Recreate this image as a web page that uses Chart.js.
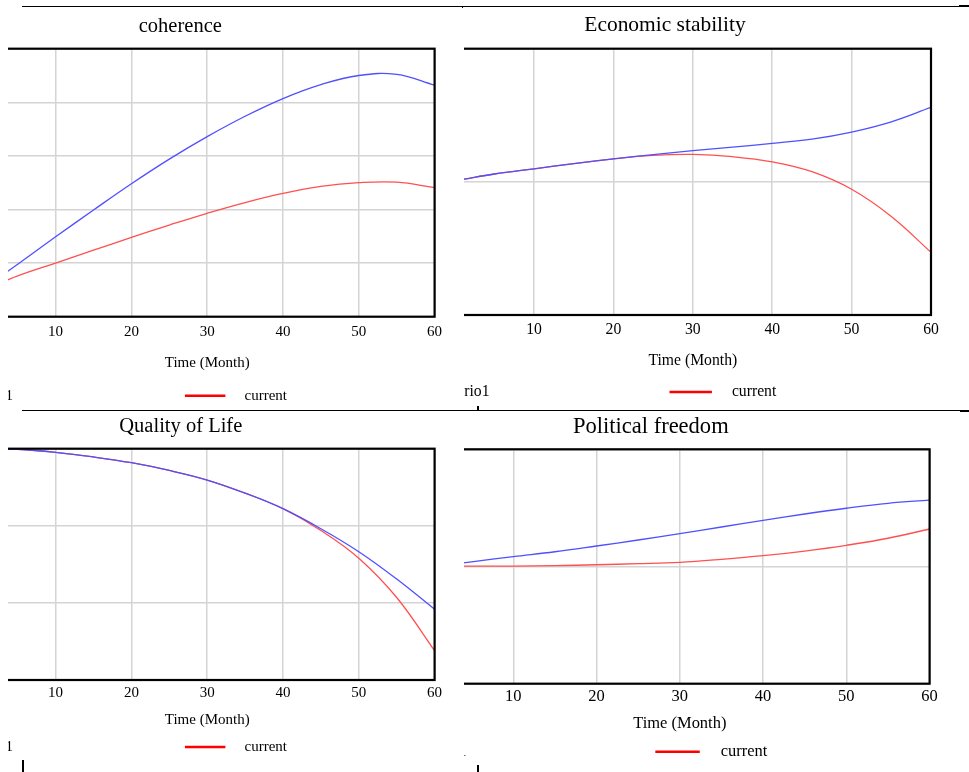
<!DOCTYPE html>
<html>
<head>
<meta charset="utf-8">
<script src="https://cdn.jsdelivr.net/npm/chart.js@4.4.0/dist/chart.umd.min.js"></script>
<style>
  body { margin: 0; background: #fff; width: 969px; height: 772px; position: relative; overflow: hidden; }
  .clip { position: absolute; overflow: hidden; }
  .clip canvas { position: absolute; }
  .rule { position: absolute; background: #000; }
</style>
</head>
<body>
<div class="rule" style="left:22px;top:6px;width:938px;height:1px"></div>
<div class="rule" style="left:959px;top:5px;width:10px;height:2px"></div>
<div class="rule" style="left:462px;top:7px;width:1px;height:1px"></div>
<div class="rule" style="left:22px;top:410px;width:938px;height:1px"></div>
<div class="rule" style="left:960px;top:410px;width:9px;height:2px"></div>
<div class="rule" style="left:477px;top:406px;width:2px;height:4px"></div>
<div class="rule" style="left:22px;top:760px;width:2px;height:12px"></div>
<div class="rule" style="left:477px;top:765px;width:2px;height:7px"></div>

<div class="clip" id="clip1" style="left:8px;top:7px;width:452px;height:402px"><canvas id="coherence"></canvas></div>
<div class="clip" id="clip2" style="left:464px;top:7px;width:505px;height:402px"><canvas id="economic"></canvas></div>
<div class="clip" id="clip3" style="left:8px;top:412px;width:452px;height:360px"><canvas id="quality"></canvas></div>
<div class="clip" id="clip4" style="left:464px;top:412px;width:505px;height:360px"><canvas id="political"></canvas></div>

<script>
// time axis (months) shared by every series
const months = [1, 5, 10, 15, 20, 25, 30, 35, 40, 45, 50, 55, 60];

// coherence
const coherenceScenario = [0.58, 0.98, 1.49, 1.99, 2.48, 2.94, 3.36, 3.74, 4.07, 4.33, 4.50, 4.52, 4.32];
const coherenceCurrent  = [0.52, 0.76, 1.00, 1.24, 1.48, 1.71, 1.93, 2.13, 2.30, 2.43, 2.50, 2.51, 2.41];

// Economic stability
const economicScenario = [1.018, 1.059, 1.098, 1.137, 1.173, 1.205, 1.234, 1.261, 1.289, 1.321, 1.374, 1.451, 1.559];
const economicCurrent  = [1.018, 1.059, 1.098, 1.137, 1.173, 1.199, 1.206, 1.189, 1.150, 1.076, 0.944, 0.740, 0.471];

// Quality of Life
const qualityScenario = [3.0, 2.993, 2.953, 2.893, 2.818, 2.718, 2.594, 2.424, 2.222, 1.962, 1.664, 1.309, 0.917];
const qualityCurrent  = [3.0, 2.993, 2.953, 2.893, 2.818, 2.718, 2.594, 2.424, 2.222, 1.940, 1.580, 1.070, 0.380];

// Political freedom
const politicalScenario = [1.005, 1.040, 1.084, 1.126, 1.175, 1.226, 1.280, 1.337, 1.394, 1.448, 1.497, 1.539, 1.567];
const politicalCurrent  = [1.004, 1.004, 1.004, 1.007, 1.015, 1.024, 1.036, 1.061, 1.092, 1.132, 1.181, 1.241, 1.320];

const serif = "'Liberation Serif', 'Times New Roman', serif";

// where each cropped panel sits on the page
const panels = [
  { id: 'coherence', clip: [8, 7], title: 'coherence', scenario: coherenceScenario, current: coherenceCurrent, yMax: 5,
    s: 1, top: 0, height: 410, area: [-20.5, 48.7, 434.3, 316.7], titleX: 180, titleMid: 26.4, tickMid: 332, xTitleMid: 362.6, legendY: 395.7 },
  { id: 'economic', clip: [464, 7], title: 'Economic stability', scenario: economicScenario, current: economicCurrent, yMax: 2,
    s: 1.046, top: 0, height: 410, area: [454.7, 48.7, 931, 315], titleX: 665, titleMid: 25.8, tickMid: 330, xTitleMid: 360.6, legendY: 392 },
  { id: 'quality', clip: [8, 412], title: 'Quality of Life', scenario: qualityScenario, current: qualityCurrent, yMax: 3,
    s: 1, top: 400, height: 372, area: [-20.5, 448.7, 434.3, 680], titleX: 180.5, titleMid: 426.4, tickMid: 692.7, xTitleMid: 719.7, legendY: 747 },
  { id: 'political', clip: [464, 412], title: 'Political freedom', scenario: politicalScenario, current: politicalCurrent, yMax: 2,
    s: 1.099, top: 400, height: 372, area: [429.7, 449.3, 929.3, 683.7], titleX: 650.5, titleMid: 426.9, tickMid: 696.7, xTitleMid: 723.7, legendY: 751.7 }
];

const framePlugin = {
  id: 'frame',
  afterDraw(chart) {
    const { ctx, chartArea: a } = chart;
    ctx.save();
    ctx.strokeStyle = '#000';
    ctx.lineWidth = 2.2;
    ctx.strokeRect(a.left, a.top, a.right - a.left, a.bottom - a.top);
    ctx.restore();
  }
};

const legendPlugin = {
  id: 'vensimLegend',
  afterDraw(chart, args, opts) {
    const { ctx, chartArea: a } = chart;
    const w = a.right - a.left;
    const y = opts.y;
    const x0 = a.left + 0.451 * w;
    ctx.save();
    ctx.strokeStyle = '#ff0000';
    ctx.lineWidth = 2.5;
    ctx.beginPath();
    ctx.moveTo(x0, y);
    ctx.lineTo(x0 + 0.089 * w, y);
    ctx.stroke();
    ctx.fillStyle = '#000';
    ctx.font = opts.size + 'px ' + serif;
    ctx.textBaseline = 'middle';
    ctx.textAlign = 'left';
    ctx.fillText('current', x0 + 0.131 * w, y);
    ctx.textAlign = 'right';
    ctx.fillText('Scenario1', a.left + 0.073 * w, y);
    ctx.restore();
  }
};

function points(vals) {
  return months.map((m, i) => ({ x: m, y: vals[i] }));
}

panels.forEach(p => {
  const [cl, ct, cr, cb] = p.area;
  const left = 2 * p.titleX - cr;          // title centred on the whole graph
  const width = cr + 20 - left;
  const titleSize = 20.5 * p.s, titleLh = titleSize * 1.2;
  const textSize = 15 * p.s, textLh = textSize * 1.2;
  const xHeight = p.xTitleMid + textLh / 2 - cb;
  const relTop = ct - p.top, relMid = p.titleMid - p.top;

  const canvas = document.getElementById(p.id);
  canvas.width = Math.round(width);
  canvas.height = p.height;
  canvas.style.left = (left - p.clip[0]) + 'px';
  canvas.style.top = (p.top - p.clip[1]) + 'px';

  new Chart(canvas, {
    type: 'line',
    data: {
      datasets: [
        { label: 'Scenario1', data: points(p.scenario), borderColor: '#5050ff', borderWidth: 1.3, pointRadius: 0, tension: 0.4, fill: false },
        { label: 'current', data: points(p.current), borderColor: '#ff5050', borderWidth: 1.3, pointRadius: 0, tension: 0.4, fill: false }
      ]
    },
    options: {
      responsive: false,
      animation: false,
      events: [],
      layout: { padding: { left: 0, right: canvas.width - (cr - left), top: 0, bottom: p.height - (cb - p.top) - xHeight } },
      plugins: {
        legend: { display: false },
        tooltip: { enabled: false },
        title: {
          display: true, text: p.title, color: '#000',
          font: { family: serif, size: titleSize, weight: 'normal', lineHeight: 1.2 },
          padding: { top: relMid - titleLh / 2, bottom: relTop - relMid - titleLh / 2 }
        },
        vensimLegend: { y: p.legendY - p.top, size: textSize }
      },
      scales: {
        x: {
          type: 'linear', min: 0, max: 60,
          afterFit: sc => { sc.height = xHeight; },
          grid: { color: '#d4d4d4', lineWidth: 1.5, drawTicks: false },
          border: { display: false },
          ticks: { stepSize: 10, padding: p.tickMid - cb - textLh / 2, color: '#000', maxRotation: 0, autoSkip: false,
                   font: { family: serif, size: textSize } },
          title: { display: true, text: 'Time (Month)', color: '#000', padding: 0,
                   font: { family: serif, size: textSize } }
        },
        y: {
          min: 0, max: p.yMax,
          afterFit: sc => { sc.width = cl - left; },
          grid: { color: '#d4d4d4', lineWidth: 1.5, drawTicks: false },
          border: { display: false },
          ticks: { display: false, stepSize: 1 }
        }
      }
    },
    plugins: [framePlugin, legendPlugin]
  });
});
</script>
</body>
</html>
